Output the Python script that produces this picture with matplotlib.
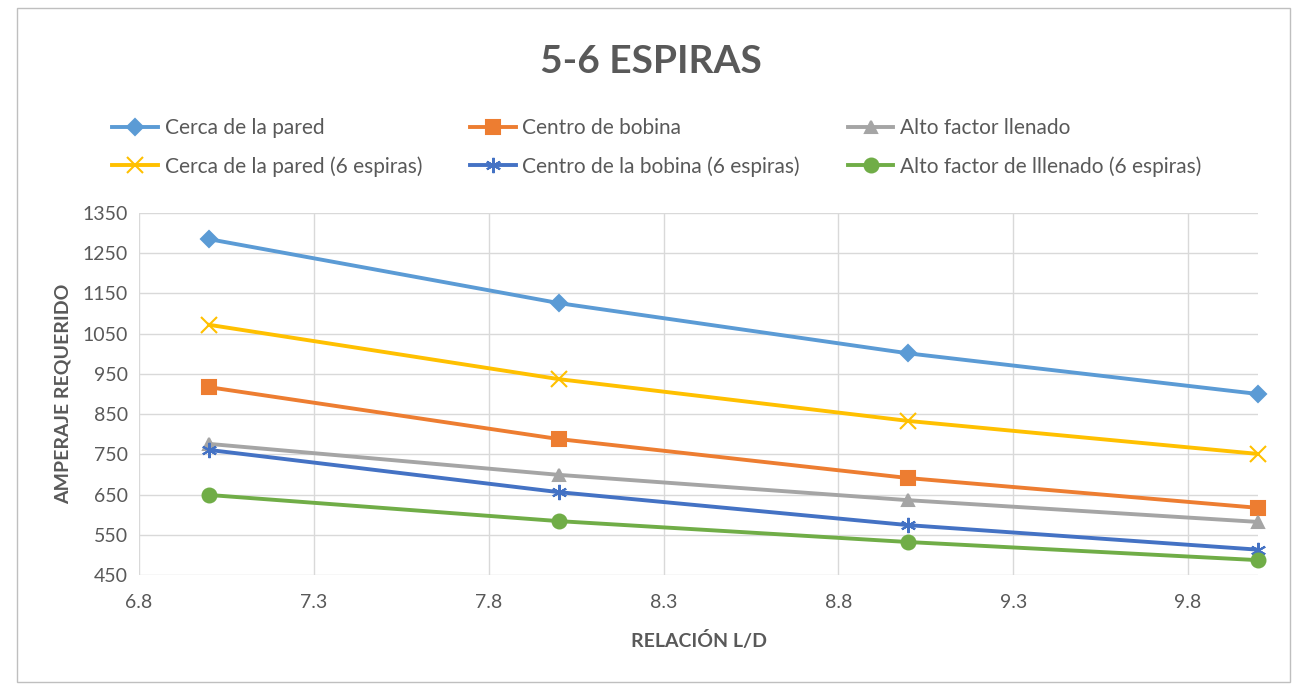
import matplotlib.pyplot as plt
from matplotlib.patches import Rectangle

# relacion L/D
x = [7, 8, 9, 10]

cerca = [1285, 1126, 1001, 900]
centro = [917, 788, 691, 617]
alto = [776, 699, 636, 582]
cerca6 = [1072, 937, 833, 751]
centro6 = [761, 656, 574, 513]
alto6 = [649, 584, 532, 487]

nombres = ["Cerca de la pared", "Centro de bobina", "Alto factor llenado",
           "Cerca de la pared (6 espiras)", "Centro de la bobina (6 espiras)",
           "Alto factor de lllenado (6 espiras)"]
xticks = [6.8, 7.3, 7.8, 8.3, 8.8, 9.3, 9.8]
yticks = [450, 550, 650, 750, 850, 950, 1050, 1150, 1250, 1350]

plt.rcParams['font.family'] = ['Lato', 'DejaVu Sans']
gris = "#595959"

fig = plt.figure(figsize=(13.02, 6.87), dpi=100)
ax = fig.add_axes([0.1068, 0.163, 0.8594, 0.527])

series = [cerca, centro, alto, cerca6, centro6, alto6]
colores = ["#5B9BD5", "#ED7D31", "#A5A5A5", "#FFC000", "#4472C4", "#70AD47"]
marcas = ["D", "s", "^", "x", (6, 2, 0), "o"]
tams = [8, 10, 9, 11, 11, 10]

lineas = []
for s, c, m, t, n in zip(series, colores, marcas, tams, nombres):
    ln, = ax.plot(x, s, color=c, marker=m, markersize=t, linewidth=2.8,
                  markeredgewidth=1.5, label=n, clip_on=False, zorder=3)
    lineas.append(ln)

ax.set_xlim(6.8, 10.0)
ax.set_ylim(450, 1350)
ax.set_xticks(xticks)
ax.set_xticklabels([str(v) for v in xticks])
ax.set_yticks(yticks)
ax.grid(True, color="#D9D9D9", linewidth=1)
ax.set_axisbelow(True)
for sp in ax.spines.values():
    sp.set_visible(False)
ax.tick_params(length=0, labelsize=14, labelcolor=gris)
ax.tick_params(axis="x", pad=14)
ax.tick_params(axis="y", pad=8)

ax.set_xlabel("RELACIÓN L/D", fontsize=14, fontweight="bold", color=gris, labelpad=14)
ax.set_ylabel("AMPERAJE REQUERIDO", fontsize=14, fontweight="bold", color=gris, labelpad=8)

fig.text(0.5, 0.91, "5-6 ESPIRAS", ha="center", va="center", fontsize=28,
         fontweight="bold", color=gris)

# orden por filas como en la leyenda original
orden = [0, 3, 1, 4, 2, 5]
leg = fig.legend(handles=[lineas[i] for i in orden], loc="upper left",
                 bbox_to_anchor=(0.072, 0.855), ncol=3, frameon=False,
                 fontsize=15, handlelength=2.2, columnspacing=2.3,
                 labelspacing=0.85, handletextpad=0.3)
for t in leg.get_texts():
    t.set_color(gris)

fig.patches.append(Rectangle((0.013, 0.008), 0.978, 0.98, transform=fig.transFigure,
                             fill=False, edgecolor="#BFBFBF", linewidth=1))

fig.savefig("out.png", dpi=100)
